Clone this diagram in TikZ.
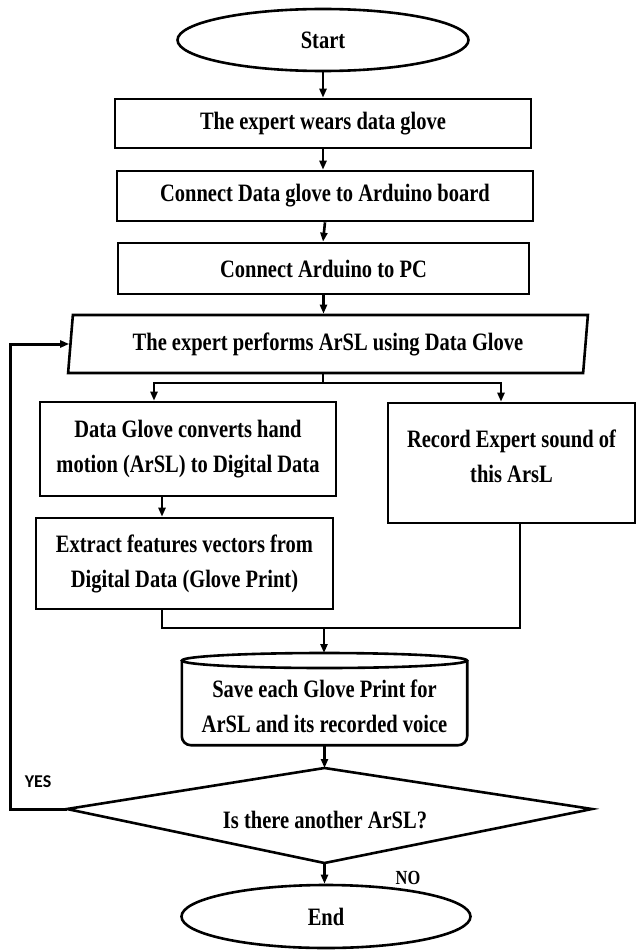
\documentclass[tikz,border=0pt]{standalone}
\usepackage{fontspec}
\setmainfont{Liberation Serif}[FakeStretch=0.82]
\newfontfamily\labelsans{Carlito}
\usetikzlibrary{shapes.geometric,arrows.meta}

\begin{document}
\begin{tikzpicture}[x=1pt,y=-1pt,
  every node/.style={font=\fontsize{25}{35}\selectfont\bfseries, align=center, inner sep=0pt},
  box/.style={draw, line width=2.6pt, rectangle},
  term/.style={draw, line width=2.6pt, ellipse},
  conn/.style={line width=2.6pt},
  arr/.style={conn, -{Triangle[length=9pt,width=7pt]}},
]
\useasboundingbox (0,0) rectangle (637,950);

% process steps
\node[term, minimum width=291pt, minimum height=62pt] (start) at (323,40) {Start};
\node[box, minimum width=416pt, minimum height=49pt] (wear) at (323,123.5) {The expert wears data glove};
\node[box, minimum width=416pt, minimum height=50pt] (glove) at (325,196) {Connect Data glove to Arduino board};
\node[box, minimum width=411pt, minimum height=51pt] (pc) at (323.5,268.5) {Connect Arduino to PC};
\node[draw, line width=2.6pt, trapezium, trapezium left angle=81, trapezium right angle=99,
      trapezium stretches=true, minimum width=522pt, minimum height=58pt] (perf) at (328,344)
      {The expert performs ArSL using Data Glove};

\node[box, minimum width=296pt, minimum height=94pt] (conv) at (188,449)
  {Data Glove converts hand\\motion (ArSL) to Digital Data};
\node[box, minimum width=297pt, minimum height=91pt] (feat) at (184.5,563.5)
  {Extract features vectors from\\Digital Data (Glove Print)};
\node[box, minimum width=247pt, minimum height=120pt, text depth=14pt] (rec) at (511.5,463)
  {Record Expert sound of\\this ArsL};

% storage: body node plus elliptic cap
\node[minimum width=285pt, minimum height=77pt] (save) at (324.5,706.5)
  {Save each Glove Print for\\ArSL and its recorded voice};
\coordinate (capC) at (324.5,660.5);
\coordinate (capT) at (324.5,653);
\draw[line width=2.6pt] (capC) ellipse [x radius=142.5pt, y radius=7.5pt];
\draw[line width=2.6pt] (save.west |- capC) [rounded corners=9pt] -- (save.south west)
  -- (save.south east) -- (save.east |- capC);

% decision
\node (ask) at (325,820) {Is there another ArSL?};
\coordinate (askT) at (324.5,768);
\coordinate (askR) at (592,809);
\coordinate (askB) at (324.5,863);
\coordinate (askL) at (67,809);
\draw[line width=2.6pt, line join=miter] (askT) -- (askR) -- (askB) -- (askL) -- cycle;

\node[term, minimum width=289pt, minimum height=63pt] (end) at (326,916.5) {End};

% connectors
\draw[arr] (start.south) -- (start.south |- wear.north);
\draw[arr] (wear.south) -- (wear.south |- glove.north);
\draw[arr] (glove.south) -- (wear.south |- pc.north);
\draw[arr] (pc.south) -- (pc.south |- perf.north);

\coordinate (split) at (323,383);
\draw[conn] (split |- perf.south) -- (split);
\draw[arr] (split) -| ([xshift=-34pt]conv.north);
\draw[arr] (split) -| ([xshift=-10.5pt]rec.north);
\draw[arr] ([xshift=-26pt]conv.south) -- ([xshift=-26pt]conv.south |- feat.north);

\coordinate (join) at (324,628);
\draw[conn] ([xshift=-22.5pt]feat.south) |- (join);
\draw[conn] ([xshift=8.5pt]rec.south) |- (join);
\draw[arr] (join) -- (join |- capT);

\draw[arr] (save.south) -- (askT);
\draw[arr] (askB) -- (askB |- end.north);

\coordinate (loopC) at (10,809);
\draw[arr, line width=3pt] (askL) -- (loopC) |- (perf.west);

% branch labels
\node[font=\labelsans\fontsize{18}{18}\selectfont\bfseries] (yes) at (38,782) {YES};
\node[font=\fontsize{20}{20}\selectfont\bfseries] (no) at (408,878) {NO};
\end{tikzpicture}
\end{document}
